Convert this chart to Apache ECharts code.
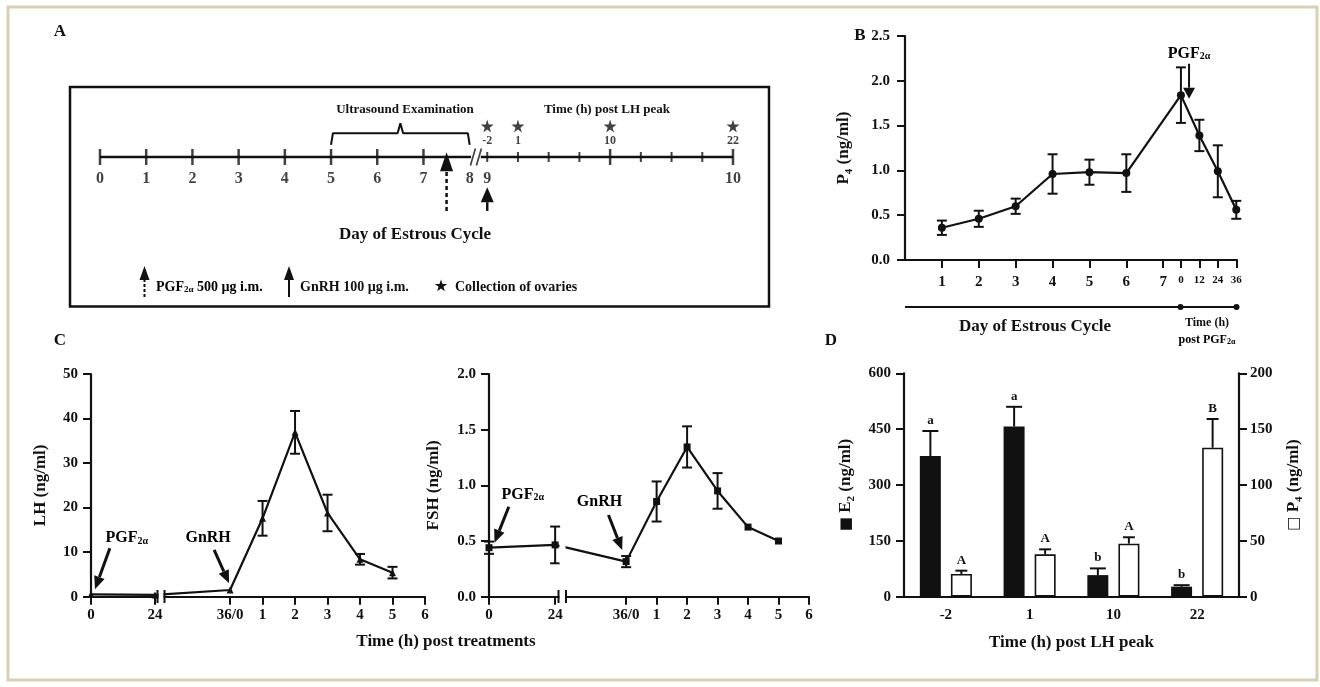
<!DOCTYPE html>
<html>
<head>
<meta charset="utf-8">
<script src="https://cdn.jsdelivr.net/npm/echarts@6/dist/echarts.min.js"></script>
<style>html,body{margin:0;padding:0;background:#fff}#wrap{width:1320px;height:687px}</style>
</head>
<body>
<div id="wrap"></div>
<script>
// ---------- data ----------
// A: study timeline
var aDays = [0, 1, 2, 3, 4, 5, 6, 7];
var aLateDayLabels = ['8', '9', '10'];
var aHourTicks = [-2, 1, 4, 7, 10, 13, 16, 19, 22];
var aCollectHours = [-2, 1, 10, 22];
var aUltrasound = [5, 8];
var aPgfDay = 7.5;
var aGnrhHour = -2;

// B: P4 over the cycle and after PGF2a
var bDayTicks = [1, 2, 3, 4, 5, 6, 7];
var pDays = [1, 2, 3, 4, 5, 6];
var pDayMean = [0.36, 0.46, 0.60, 0.96, 0.98, 0.97];
var pDayErr = [0.08, 0.09, 0.085, 0.22, 0.14, 0.21];
var pHours = [0, 12, 24, 36];
var pHourMean = [1.84, 1.39, 0.99, 0.56];
var pHourErr = [0.31, 0.175, 0.29, 0.10];

// C: LH and FSH post treatments
var cTickLabels = ['0', '24', '36/0', '1', '2', '3', '4', '5', '6'];
var lhMean = [0.5, 0.4, 1.5, 17.6, 36.9, 18.8, 8.4, 5.4];
var lhErr = [0, 0, 0, 3.9, 4.8, 4.1, 1.2, 1.3];
var fshMean = [0.44, 0.465, 0.315, 0.855, 1.345, 0.95, 0.625, 0.50];
var fshErr = [0.055, 0.165, 0.05, 0.18, 0.185, 0.16, 0, 0];

// D: E2 and P4 post LH peak
var dCats = ['-2', '1', '10', '22'];
var e2Mean = [378, 457, 58, 27];
var e2Err = [67, 53, 18, 4];
var e2Letters = ['a', 'a', 'b', 'b'];
var p4Mean = [20.3, 37.9, 47.5, 133.4];
var p4Err = [3, 4.5, 5.7, 25.7];
var p4Letters = ['A', 'A', 'A', 'B'];

// ---------- layout helpers ----------
var FONT = 'Liberation Serif';
var INK = '#111';

// broken axes: positions along each axis
function aHourPos(h) { return 8.38 + (h + 2) * 0.2216; }
function bHourPos(h) { return 7.48 + h / 24; }
var lhTickPos = [-4.28, -2.31, 0, 1, 2, 3, 4, 5, 6];
var fshTickPos = [-4.5, -2.33, 0, 1, 2, 3, 4, 5, 6];

function txt(size, extra) {
  var s = {fontFamily: FONT, fontWeight: 'bold', fontSize: size, color: INK};
  for (var k in extra) s[k] = extra[k];
  return s;
}
var subRich = {
  t: txt(17, {lineHeight: 22}),
  s: txt(11, {lineHeight: 12, verticalAlign: 'bottom'}),
  sq: {fontFamily: 'DejaVu Sans', fontSize: 15, color: INK, lineHeight: 22}
};

function lookup(positions, labels) {
  return function (v) {
    for (var i = 0; i < positions.length; i++) {
      if (Math.abs(positions[i] - v) < 1e-6) return labels[i];
    }
    return '';
  };
}

function valueAxis(o) {
  var ax = {
    type: 'value', gridIndex: o.grid, min: o.min, max: o.max,
    splitLine: {show: false},
    axisLine: {show: true, onZero: false, lineStyle: {color: INK, width: 2.2}},
    axisTick: {show: true, length: 8, lineStyle: {color: INK, width: 2}},
    axisLabel: txt(15, {margin: o.margin || 13})
  };
  if (o.interval) ax.interval = o.interval;
  if (o.position) ax.position = o.position;
  if (o.fmt) ax.axisLabel.formatter = o.fmt;
  if (o.ticks) {
    ax.axisTick.customValues = o.ticks;
    ax.axisLabel.customValues = o.ticks;
  }
  if (o.rich) ax.axisLabel.rich = o.rich;
  if (o.name) {
    ax.name = o.name;
    ax.nameLocation = 'middle';
    ax.nameRotate = 90;
    ax.nameGap = o.nameGap;
    ax.nameTextStyle = {rich: subRich};
  }
  return ax;
}

function errorBars(xi, yi, pts, opt) {
  return {
    type: 'custom', xAxisIndex: xi, yAxisIndex: yi, z: opt.z || 3, silent: true,
    data: pts,
    renderItem: function (params, api) {
      var x = api.value(0), m = api.value(1), e = api.value(2);
      var top = api.coord([x, m + e]);
      var bot = api.coord([x, opt.upOnly ? m : m - e]);
      var cx = top[0] + (opt.offset || 0), c = opt.cap / 2;
      var kids = [];
      var st = {stroke: INK, lineWidth: 2};
      if (e > 0) {
        kids.push({type: 'line', shape: {x1: cx, y1: top[1], x2: cx, y2: bot[1]}, style: st});
        kids.push({type: 'line', shape: {x1: cx - c, y1: top[1], x2: cx + c, y2: top[1]}, style: st});
        if (!opt.upOnly) kids.push({type: 'line', shape: {x1: cx - c, y1: bot[1], x2: cx + c, y2: bot[1]}, style: st});
      }
      if (opt.letters) {
        kids.push({type: 'text', x: cx, y: top[1] - 4, style: {
          text: opt.letters[params.dataIndex], font: 'bold 13px "' + FONT + '"',
          fill: INK, align: 'center', verticalAlign: 'bottom'}});
      }
      return {type: 'group', children: kids};
    }
  };
}

function arrows(xi, yi, list) {
  return {
    type: 'custom', xAxisIndex: xi, yAxisIndex: yi, z: 6, silent: true,
    data: list.map(function (a) { return [a.from[0], a.from[1], a.to[0], a.to[1]]; }),
    renderItem: function (params, api) {
      var a = list[params.dataIndex];
      var p = api.coord(a.from), q = api.coord(a.to);
      var dx = q[0] - p[0], dy = q[1] - p[1], len = Math.sqrt(dx * dx + dy * dy);
      var ux = dx / len, uy = dy / len, L = a.head[0], W = a.head[1] / 2;
      var bx = q[0] - ux * L, by = q[1] - uy * L;
      var kids = [
        {type: 'line', shape: {x1: p[0], y1: p[1], x2: bx, y2: by},
          style: {stroke: INK, lineWidth: a.width || 2.5, lineDash: a.dashed ? [4, 3] : null}},
        {type: 'polygon', shape: {points: [[q[0], q[1]], [bx - uy * W, by + ux * W], [bx + uy * W, by - ux * W]]},
          style: {fill: INK}}
      ];
      if (a.label) {
        kids.push({type: 'text', x: p[0] + a.labelOffset[0], y: p[1] + a.labelOffset[1], style: {
          text: a.label, rich: {t: txt(16), s: txt(10, {verticalAlign: 'bottom', lineHeight: 10})},
          align: 'center', verticalAlign: 'middle'}});
      }
      return {type: 'group', children: kids};
    }
  };
}

var PGF = '{t|PGF}{s|2α}';
var STAR = 'path://M50,0L61,35L98,35L68,57L79,91L50,70L21,91L32,57L2,35L39,35Z';

// ---------- panel A timeline ----------
var aLateDayPos = [8, aHourPos(-2), aHourPos(22)];
var aDayLabelData = aDays.map(function (d) { return [d, 0, String(d)]; })
  .concat(aLateDayLabels.map(function (t, i) { return [aLateDayPos[i], 0, t]; }));
var hidden = {color: 'rgba(0,0,0,0)'};

var seriesA = [
  {type: 'line', xAxisIndex: 0, yAxisIndex: 0, silent: true, symbol: 'none',
    data: [[0, 0], [8.03, 0]], lineStyle: {color: INK, width: 2.5}},
  {type: 'line', xAxisIndex: 0, yAxisIndex: 0, silent: true, symbol: 'none',
    data: [[8.24, 0], [aHourPos(22), 0]], lineStyle: {color: INK, width: 2.5}},
  {type: 'scatter', xAxisIndex: 0, yAxisIndex: 0, silent: true,
    data: [[8.135, 0]], symbol: 'path://M0,20L5,0M6,20L11,0', symbolSize: [11, 17],
    itemStyle: {color: 'rgba(0,0,0,0)', borderColor: INK, borderWidth: 2}},
  {type: 'scatter', xAxisIndex: 0, yAxisIndex: 0, silent: true, symbol: 'rect',
    symbolSize: [2.5, 16], itemStyle: {color: INK},
    data: aDays.map(function (d) { return [d, 0]; })},
  {type: 'scatter', xAxisIndex: 0, yAxisIndex: 0, silent: true, symbol: 'rect',
    symbolSize: function (v) { return (v[2] === 10 || v[2] === 22) ? [2.5, 16] : [2, 10]; },
    itemStyle: {color: INK},
    data: aHourTicks.map(function (h) { return [aHourPos(h), 0, h]; })},
  {type: 'scatter', xAxisIndex: 0, yAxisIndex: 0, silent: true, symbolSize: 1, itemStyle: hidden,
    data: aDayLabelData,
    label: txt(16, {show: true, position: 'inside', offset: [0, 22],
      formatter: function (p) { return p.value[2]; }})},
  {type: 'scatter', xAxisIndex: 0, yAxisIndex: 0, silent: true, symbol: STAR, symbolSize: 13,
    symbolOffset: [0, -31], itemStyle: {color: INK},
    data: aCollectHours.map(function (h) { return [aHourPos(h), 0]; })},
  {type: 'scatter', xAxisIndex: 0, yAxisIndex: 0, silent: true, symbolSize: 1, itemStyle: hidden,
    data: aCollectHours.map(function (h) { return [aHourPos(h), 0, String(h)]; }),
    label: txt(12, {show: true, position: 'inside', offset: [0, -16],
      formatter: function (p) { return p.value[2]; }})},
  {type: 'line', xAxisIndex: 0, yAxisIndex: 0, silent: true, symbol: 'none',
    lineStyle: {color: INK, width: 2},
    data: (function () {
      var s = aUltrasound[0], e = aUltrasound[1], m = (s + e) / 2;
      return [[s, 0.21], [s + 0.04, 0.41], [m - 0.06, 0.41], [m, 0.58], [m + 0.06, 0.41], [e - 0.04, 0.41], [e, 0.21]];
    })()},
  arrows(0, 0, [
    {from: [aPgfDay, -0.93], to: [aPgfDay, 0.08], dashed: true, head: [19, 13], width: 2.5},
    {from: [aHourPos(aGnrhHour), -0.93], to: [aHourPos(aGnrhHour), -0.52], head: [15, 13], width: 2.5}
  ])
];

// ---------- panel B ----------
var bPoints = pDays.map(function (d, i) { return [d, pDayMean[i], pDayErr[i]]; })
  .concat(pHours.map(function (h, i) { return [bHourPos(h), pHourMean[i], pHourErr[i]]; }));
var bTickPos = bDayTicks.concat(pHours.map(bHourPos));
var bTickText = bDayTicks.map(function (d) { return '{d|' + d + '}'; })
  .concat(pHours.map(function (h) { return '{h|' + h + '}'; }));

var seriesB = [
  errorBars(1, 1, bPoints, {cap: 10}),
  {type: 'line', xAxisIndex: 1, yAxisIndex: 1, silent: true, symbol: 'circle', symbolSize: 8,
    itemStyle: {color: INK}, lineStyle: {color: INK, width: 2.2},
    data: bPoints.map(function (p) { return [p[0], p[1]]; })},
  arrows(1, 1, [{from: [bHourPos(0) + 0.22, 2.19], to: [bHourPos(0) + 0.22, 1.80],
    head: [11, 12], width: 2, label: PGF, labelOffset: [0, -10]}])
];

// ---------- panel C ----------
var lhPoints = lhMean.map(function (m, i) { return [lhTickPos[i], m, lhErr[i]]; });
var fshPoints = fshMean.map(function (m, i) { return [fshTickPos[i], m, fshErr[i]]; });

var seriesC = [
  errorBars(2, 2, lhPoints, {cap: 10}),
  {type: 'line', xAxisIndex: 2, yAxisIndex: 2, silent: true, symbol: 'triangle', symbolSize: 7,
    itemStyle: {color: INK}, lineStyle: {color: INK, width: 2.2},
    data: lhPoints.map(function (p) { return [p[0], p[1]]; })},
  arrows(2, 2, [
    {from: [-3.70, 10.9], to: [-4.157, 1.66], head: [13, 11], width: 3, label: PGF, labelOffset: [17, -10]},
    {from: [-0.49, 10.5], to: [-0.03, 3.0], head: [13, 11], width: 3, label: '{t|GnRH}', labelOffset: [-6, -12]}
  ]),
  errorBars(3, 3, fshPoints, {cap: 10}),
  {type: 'line', xAxisIndex: 3, yAxisIndex: 3, silent: true, symbol: 'rect', symbolSize: 7,
    itemStyle: {color: INK}, lineStyle: {color: INK, width: 2.2},
    data: fshPoints.map(function (p) { return [p[0], p[1]]; })},
  arrows(3, 3, [
    {from: [-3.85, 0.808], to: [-4.32, 0.485], head: [13, 11], width: 3, label: PGF, labelOffset: [14, -12]},
    {from: [-0.58, 0.734], to: [-0.13, 0.419], head: [13, 11], width: 3, label: '{t|GnRH}', labelOffset: [-9, -13]}
  ])
];

// ---------- panel D ----------
var seriesD = [
  {type: 'bar', xAxisIndex: 4, yAxisIndex: 4, silent: true, data: e2Mean, barWidth: 21, barGap: '48%',
    itemStyle: {color: INK}},
  {type: 'bar', xAxisIndex: 4, yAxisIndex: 5, silent: true, data: p4Mean, barWidth: 21,
    itemStyle: {color: '#fff', borderColor: INK, borderWidth: 1.6}},
  errorBars(4, 4, e2Mean.map(function (m, i) { return [i, m, e2Err[i]]; }),
    {cap: 16, offset: -15.5, upOnly: true, letters: e2Letters, z: 5}),
  errorBars(4, 5, p4Mean.map(function (m, i) { return [i, m, p4Err[i]]; }),
    {cap: 12, offset: 15.5, upOnly: true, letters: p4Letters, z: 5})
];

// ---------- decorations ----------
function gText(x, y, text, size, extra) {
  var st = {text: text, font: 'bold ' + size + 'px "' + FONT + '"', fill: INK,
    align: 'center', verticalAlign: 'middle'};
  for (var k in extra) st[k] = extra[k];
  return {type: 'text', x: x, y: y, z: 100, style: st};
}
function gLine(x1, y1, x2, y2, w, dash) {
  return {type: 'line', z: 100, shape: {x1: x1, y1: y1, x2: x2, y2: y2},
    style: {stroke: INK, lineWidth: w || 2, lineDash: dash || null}};
}
function gHead(x, yTip, len, w) {
  return {type: 'polygon', z: 100, shape: {points: [[x, yTip], [x - w / 2, yTip + len], [x + w / 2, yTip + len]]},
    style: {fill: INK}};
}
function gWhite(x, y, w, h) {
  return {type: 'rect', z: 90, shape: {x: x, y: y, width: w, height: h}, style: {fill: '#fff'}};
}
function gStar(cx, cy, r) {
  var pts = [];
  for (var i = 0; i < 10; i++) {
    var ang = -Math.PI / 2 + i * Math.PI / 5, rr = i % 2 ? r * 0.4 : r;
    pts.push([cx + rr * Math.cos(ang), cy + rr * Math.sin(ang)]);
  }
  return {type: 'polygon', z: 100, shape: {points: pts}, style: {fill: INK}};
}
var legRich = {t: txt(14), s: txt(9, {verticalAlign: 'bottom', lineHeight: 9})};

var graphics = [
  {type: 'rect', z: 0, shape: {x: 8, y: 7, width: 1309, height: 673},
    style: {fill: 'none', stroke: '#d8d1b8', lineWidth: 3}},
  {type: 'rect', z: 100, shape: {x: 70, y: 87, width: 699, height: 219.5},
    style: {fill: 'none', stroke: INK, lineWidth: 2.5}},
  gText(60, 32, 'A', 17), gText(860, 36, 'B', 17), gText(60, 341, 'C', 17), gText(831, 341, 'D', 17),
  gText(405, 110, 'Ultrasound Examination', 13),
  gText(607, 110, 'Time (h) post LH peak', 13),
  gText(415, 235, 'Day of Estrous Cycle', 17),
  // legend of panel A
  gLine(144.5, 297, 144.5, 279, 2, [3, 2]), gHead(144.5, 266, 14, 10),
  {type: 'text', x: 156, y: 287, z: 100, style: {text: '{t|PGF}{s|2α}{t| 500 µg i.m.}', rich: legRich,
    align: 'left', verticalAlign: 'middle'}},
  gLine(289, 297, 289, 279, 2), gHead(289, 266, 14, 10),
  gText(300, 287, 'GnRH 100 µg i.m.', 14, {align: 'left'}),
  gStar(441, 286, 6.5),
  gText(455, 287, 'Collection of ovaries', 14, {align: 'left'}),
  // panel B caption
  gLine(905, 307, 1237, 307, 2),
  {type: 'circle', z: 100, shape: {cx: 1180.5, cy: 307, r: 3}, style: {fill: INK}},
  {type: 'circle', z: 100, shape: {cx: 1236.5, cy: 307, r: 3}, style: {fill: INK}},
  gText(1035, 327, 'Day of Estrous Cycle', 17),
  gText(1207, 323, 'Time (h)', 12),
  {type: 'text', x: 1207, y: 340, z: 100, style: {text: '{t|post PGF}{s|2α}',
    rich: {t: txt(12), s: txt(8, {verticalAlign: 'bottom', lineHeight: 8})}, align: 'center', verticalAlign: 'middle'}},
  // panel C axis breaks and caption
  gWhite(158.5, 588, 5, 16), gLine(157.5, 590, 157.5, 603, 2), gLine(164.5, 590, 164.5, 603, 2),
  gWhite(559.5, 588, 6, 16), gWhite(559.5, 538, 6, 26), gLine(558.5, 590, 558.5, 603, 2), gLine(566, 590, 566, 603, 2),
  gText(446, 642, 'Time (h) post treatments', 17)
];

// ---------- chart ----------
function grid(l, t, w, h) {
  return {left: l, top: t, width: w, height: h, containLabel: false, outerBoundsMode: 'none'};
}

var option = {
  animation: false,
  backgroundColor: '#fff',
  textStyle: {fontFamily: FONT},
  grid: [
    grid(100, 99, 633, 116),
    grid(905, 36, 332, 224),
    grid(91, 374, 334, 222.7),
    grid(489, 374, 320, 222.7),
    grid(904, 373.3, 335, 223.4)
  ],
  xAxis: [
    {type: 'value', gridIndex: 0, min: 0, max: aHourPos(22), show: false},
    valueAxis({grid: 1, min: 0, max: 9, ticks: bTickPos, margin: 15,
      fmt: lookup(bTickPos, bTickText), rich: {d: txt(15), h: txt(11)}}),
    valueAxis({grid: 2, min: lhTickPos[0], max: 6, ticks: lhTickPos, margin: 11,
      fmt: lookup(lhTickPos, cTickLabels)}),
    valueAxis({grid: 3, min: fshTickPos[0], max: 6, ticks: fshTickPos, margin: 11,
      fmt: lookup(fshTickPos, cTickLabels)}),
    {type: 'category', gridIndex: 4, data: dCats,
      axisLine: {lineStyle: {color: INK, width: 2.2}}, axisTick: {show: false},
      axisLabel: txt(15, {margin: 11}),
      name: 'Time (h) post LH peak', nameLocation: 'middle', nameGap: 37,
      nameTextStyle: txt(17)}
  ],
  yAxis: [
    {type: 'value', gridIndex: 0, min: -1, max: 1, show: false},
    valueAxis({grid: 1, min: 0, max: 2.5, interval: 0.5, margin: 15,
      fmt: function (v) { return v.toFixed(1); },
      name: '{t|P}{s|4}{t| (ng/ml)}', nameGap: 50}),
    valueAxis({grid: 2, min: 0, max: 50, interval: 10, margin: 13,
      name: '{t|LH (ng/ml)}', nameGap: 39}),
    valueAxis({grid: 3, min: 0, max: 2, interval: 0.5, margin: 13,
      fmt: function (v) { return v.toFixed(1); },
      name: '{t|FSH (ng/ml)}', nameGap: 44}),
    valueAxis({grid: 4, min: 0, max: 600, interval: 150, margin: 13,
      name: '{sq|■}{t| E}{s|2}{t| (ng/ml)}', nameGap: 47}),
    valueAxis({grid: 4, min: 0, max: 200, interval: 50, margin: 11, position: 'right',
      name: '{sq|□}{t| P}{s|4}{t| (ng/ml)}', nameGap: 44})
  ],
  series: seriesA.concat(seriesB, seriesC, seriesD),
  graphic: {elements: graphics}
};

var myChart = echarts.init(document.getElementById('wrap'));
myChart.setOption(option);
</script>
</body>
</html>
